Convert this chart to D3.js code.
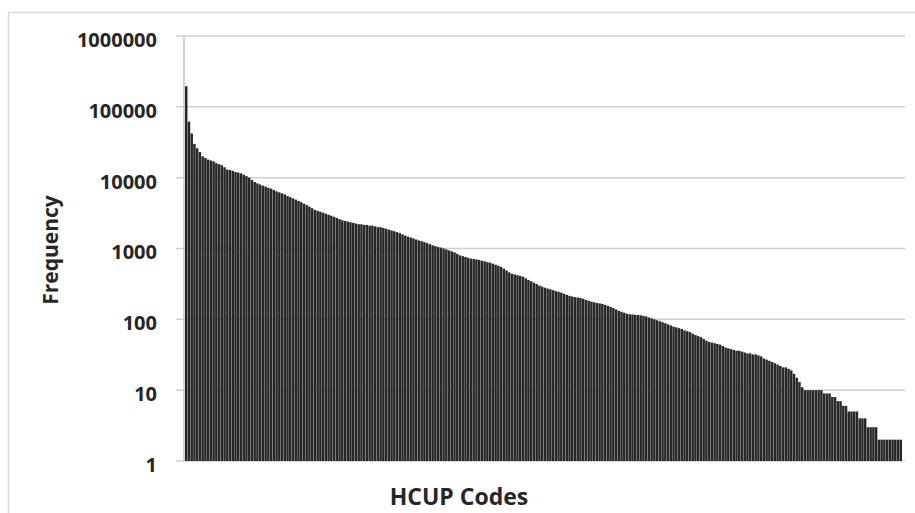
<!DOCTYPE html>
<html>
<head>
<meta charset="utf-8">
<script src="https://cdn.jsdelivr.net/npm/d3@7/dist/d3.min.js"></script>
<style>
  html, body { margin: 0; padding: 0; background: #fff; }
  svg { display: block; }
</style>
</head>
<body>
<div id="chart"></div>
<script>
// frequency of each HCUP code, sorted from most to least frequent
const frequencies = [
  195000, 62000, 42000, 30000, 26000, 23000, 20000, 19000, 18000, 17500,
  17000, 16000, 15500, 15000, 14000, 13000, 12800, 12500, 12000, 11800,
  11500, 11000, 10500, 10000, 9300, 8700, 8300, 8000, 7700, 7500,
  7200, 7000, 6700, 6400, 6200, 6000, 5800, 5500, 5300, 5100,
  4900, 4700, 4500, 4300, 4100, 3900, 3700, 3500, 3400, 3300,
  3200, 3100, 3000, 2900, 2800, 2700, 2600, 2500, 2450, 2400,
  2350, 2300, 2250, 2200, 2200, 2150, 2150, 2100, 2100, 2050,
  2000, 2000, 1950, 1900, 1850, 1800, 1750, 1700, 1650, 1580,
  1520, 1470, 1430, 1390, 1340, 1300, 1270, 1230, 1190, 1150,
  1110, 1080, 1050, 1030, 1000, 970, 940, 910, 880, 840,
  800, 780, 760, 740, 720, 710, 700, 690, 670, 660,
  640, 630, 610, 590, 570, 550, 520, 490, 460, 440,
  430, 420, 410, 400, 380, 360, 345, 330, 315, 300,
  290, 280, 272, 265, 258, 250, 245, 238, 230, 222,
  215, 210, 206, 203, 200, 195, 188, 183, 178, 174,
  170, 168, 165, 160, 155, 150, 144, 138, 132, 128,
  124, 120, 118, 117, 116, 115, 114, 112, 110, 106,
  103, 100, 97, 94, 91, 88, 85, 82, 79, 77,
  75, 73, 70, 68, 66, 63, 60, 58, 56, 53,
  50, 48, 47, 46, 45, 44, 42, 40, 39, 38,
  37, 36, 36, 35, 34, 33, 33, 32, 32, 31,
  30, 28, 27, 26, 25, 24, 23, 22, 21, 21,
  20, 19, 17, 15, 13, 11, 10, 10, 10, 10,
  10, 10, 10, 9, 9, 9, 8, 8, 7, 7,
  6, 6, 5, 5, 5, 5, 4, 4, 4, 3,
  3, 3, 3, 2, 2, 2, 2, 2, 2, 2,
  2, 2
]
const codes = frequencies.map((_, i) => `code_${i + 1}`)
const yTicks = [1, 10, 100, 1000, 10000, 100000, 1000000]

const width = 915
const height = 513
const plot = { left: 184, right: 905, top: 36, bottom: 461 }

const svg = d3.select('#chart').append('svg')
  .attr('width', width)
  .attr('height', height)

// outer chart border (right/bottom edges are cut off in the picture)
svg.append('rect')
  .attr('x', 8.5)
  .attr('y', 12.5)
  .attr('width', width + 20)
  .attr('height', height + 20)
  .attr('fill', 'none')
  .attr('stroke', '#d9d9d9')
  .attr('stroke-width', 1.5)

const x = d3.scaleBand()
  .domain(codes)
  .range([plot.left + 1, plot.right - 3])
  .paddingInner(0.1)
  .paddingOuter(0)

const y = d3.scaleLog()
  .domain([1, 1000000])
  .range([plot.bottom, plot.top])

// gridlines + ticks
svg.append('g')
  .selectAll('line')
  .data(yTicks)
  .join('line')
  .attr('x1', plot.left - 8)
  .attr('x2', plot.right)
  .attr('y1', d => y(d))
  .attr('y2', d => y(d))
  .attr('stroke', '#cfcfcf')
  .attr('stroke-width', 1.5)

// y axis line
svg.append('line')
  .attr('x1', plot.left)
  .attr('x2', plot.left)
  .attr('y1', plot.top)
  .attr('y2', plot.bottom)
  .attr('stroke', '#c4c4c4')
  .attr('stroke-width', 1.5)

// bars
svg.append('g')
  .selectAll('rect')
  .data(frequencies)
  .join('rect')
  .attr('x', (d, i) => x(codes[i]))
  .attr('width', x.bandwidth())
  .attr('y', d => y(d))
  .attr('height', d => y(1) - y(d))
  .attr('fill', '#272727')

// y axis labels
const yAxis = d3.axisLeft(y)
  .tickValues(yTicks)
  .tickFormat(d3.format('d'))
  .tickSize(0)
  .tickPadding(27)

svg.append('g')
  .attr('transform', `translate(${plot.left},0)`)
  .call(yAxis)
  .call(g => g.select('.domain').remove())
  .selectAll('text')
  .attr('dy', '0.52em')
  .attr('font-family', '"Open Sans", sans-serif')
  .attr('font-weight', 700)
  .attr('font-size', 20)
  .attr('fill', '#262626')

// axis titles
svg.append('text')
  .attr('transform', 'translate(58,250) rotate(-90)')
  .attr('text-anchor', 'middle')
  .attr('font-family', '"Open Sans", sans-serif')
  .attr('font-weight', 700)
  .attr('font-size', 21)
  .attr('fill', '#262626')
  .text('Frequency')

svg.append('text')
  .attr('x', 459)
  .attr('y', 505)
  .attr('text-anchor', 'middle')
  .attr('font-family', '"Open Sans", sans-serif')
  .attr('font-weight', 700)
  .attr('font-size', 23)
  .attr('fill', '#262626')
  .text('HCUP Codes')
</script>
</body>
</html>
